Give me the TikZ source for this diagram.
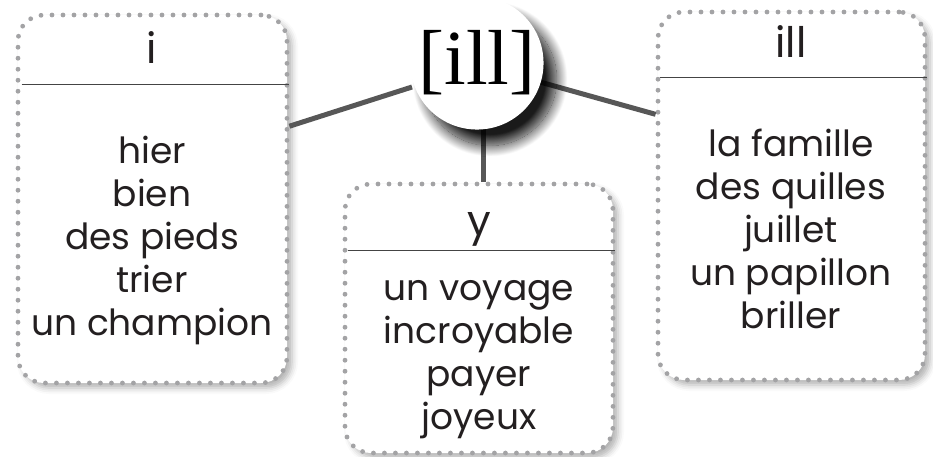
\documentclass[tikz,border=0pt]{standalone}
\usepackage{fontspec}
\setmainfont{Poppins}
\newfontfamily\ipafont{Liberation Serif}
\usetikzlibrary{calc,shadows.blur}
\definecolor{dotgray}{HTML}{A3A3A5}
\definecolor{linkgray}{HTML}{575757}
\definecolor{rulegray}{HTML}{444444}
\definecolor{inkblack}{HTML}{231F20}
\newcommand{\wordsize}{\fontsize{36}{43}\selectfont}
\newcommand{\titlesize}{\fontsize{42}{46}\selectfont}
\tikzset{
  wordbox/.style={draw=dotgray, line width=4.8pt, dash pattern=on 0pt off 11pt, line cap=round,
    rounded corners=26pt, fill=white,
    blur shadow={shadow xshift=5pt, shadow yshift=-5pt, shadow opacity=30, shadow blur radius=6pt}},
  hub/.style={circle, fill=white, inner sep=0pt,
    blur shadow={shadow xshift=13pt, shadow yshift=-16pt, shadow opacity=90, shadow blur radius=11pt, shadow blur steps=30}},
  sepline/.style={draw=rulegray, line width=1.5pt},
  link/.style={draw=linkgray, line width=5pt},
  titletext/.style={font=\titlesize, text=inkblack, inner sep=0pt},
  wordlist/.style={font=\wordsize, text=inkblack, align=center, inner sep=0pt}
}
\begin{document}
\begin{tikzpicture}[x=1pt, y=-1pt]
    \useasboundingbox (0,0) rectangle (933,456);

    % Cadres
    \node[wordbox, minimum width=269pt, minimum height=368pt] (boxI) at (152.5,199) {};
    \node[wordbox, minimum width=268pt, minimum height=269pt] (boxY) at (479,318.5) {};
    \node[wordbox, minimum width=267pt, minimum height=368pt] (boxIll) at (791.5,196) {};

    % Traits sous les titres
    \draw[sepline] ($(boxI.north west)+(6,72)$) -- ($(boxI.north east)+(0,72)$);
    \draw[sepline] ($(boxY.north west)+(5,69)$) -- ($(boxY.north east)+(0,69)$);
    \draw[sepline] ($(boxIll.north west)+(4,68)$) -- ($(boxIll.north east)+(0,68)$);

    % Titres
    \node[titletext, anchor=base] (titleI) at (152,63) {i};
    \node[titletext, anchor=base] (titleY) at (479,235) {y};
    \node[titletext, anchor=base] (titleIll) at (791,57) {ill};

    % Mots
    \node[wordlist] (listI) at (152,240) {hier\\bien\\des pieds\\trier\\un champion};
    \node[wordlist] (listY) at (479,360) {un voyage\\incroyable\\payer\\joyeux};
    \node[wordlist] (listIll) at (791,229) {la famille\\des quilles\\juillet\\un papillon\\briller};

    % Liens
    \coordinate (hubpos) at (477,63);
    \coordinate (hubfoot) at (483,120);
    \draw[link] ($(hubpos)+(-65,24)$) -- (boxI.28.8);
    \draw[link] ($(hubpos)+(63,19)$) -- (boxIll.149);
    \draw[link] (hubfoot) -- (hubfoot |- boxY.north);

    % Son
    \node[hub, minimum size=130pt] (hub) at (hubpos) {\ipafont\fontsize{78}{80}\selectfont [ill]};
\end{tikzpicture}
\end{document}
